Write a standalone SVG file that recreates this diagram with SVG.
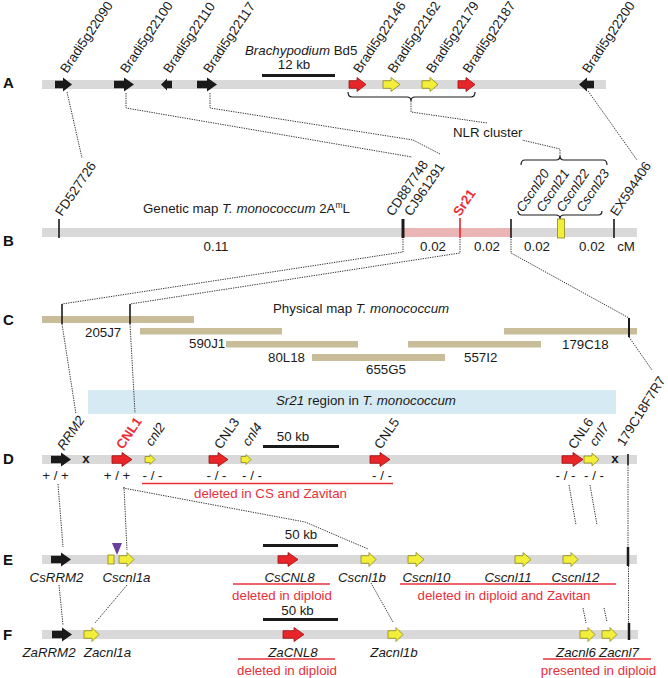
<svg xmlns="http://www.w3.org/2000/svg" width="668" height="678" viewBox="0 0 668 678">
<style>
.t{font-family:"Liberation Sans",Arial,sans-serif;font-size:13.3px;fill:#1a1a1a}
.rt{font-size:13.3px}
.i{font-style:italic}
.r{fill:#e8303a}
.bd{font-weight:bold}
.lb{font-family:"Liberation Sans",Arial,sans-serif;font-weight:bold;font-size:15px;fill:#111}
.m{text-anchor:middle}
.bar{fill:#d9d9d9}
.blk{fill:#1a1a1a}
.red{fill:#e8262a;stroke:#9a1010;stroke-width:0.8}
.yel{fill:#f3ee3a;stroke:#8a861e;stroke-width:0.8}
.dot{fill:none;stroke:#333;stroke-width:1;stroke-dasharray:1.3 1.1}
.rl{stroke:#e8303a;stroke-width:1.6}
.sb{stroke:#1a1a1a;stroke-width:3}
.mk{stroke:#1a1a1a;stroke-width:1.6}
.br{fill:none;stroke:#1a1a1a;stroke-width:1.2}
.tan{fill:#c8bd98}
</style>

<!-- Row letters -->
<g id="letters">
<text class="lb" x="3" y="88">A</text>
<text class="lb" x="3" y="246">B</text>
<text class="lb" x="3" y="325">C</text>
<text class="lb" x="3" y="464">D</text>
<text class="lb" x="3" y="565">E</text>
<text class="lb" x="3" y="640">F</text>
</g>

<!-- Row A -->
<g id="rowA">
<rect class="bar" x="42" y="80" width="564" height="9"/>
<line class="sb" x1="262" y1="75.5" x2="335" y2="75.5"/>
<text class="t m" x="294" y="69">12 kb</text>
<text class="t" x="245" y="55" font-size="12.3"><tspan class="i">Brachypodium</tspan> Bd5</text>
<g id="Bradi5g22090"><path class="blk" d="M55,80.7 H63 V77.5 L72,84.5 L63,91.5 V88.3 H55Z"/><text class="t rt" transform="translate(67,74) rotate(-56)">Bradi5g22090</text></g>
<g id="Bradi5g22100"><path class="blk" d="M114,80.7 H124 V77.5 L134,84.5 L124,91.5 V88.3 H114Z"/><text class="t rt" transform="translate(127,74) rotate(-56)">Bradi5g22100</text></g>
<g id="Bradi5g22110"><path class="blk" d="M172,80.7 H167 V78.5 L161,84.5 L167,90.5 V88.3 H172Z"/><text class="t rt" transform="translate(170,74) rotate(-56)">Bradi5g22110</text></g>
<g id="Bradi5g22117"><path class="blk" d="M197,80.7 H207 V77.5 L217,84.5 L207,91.5 V88.3 H197Z"/><text class="t rt" transform="translate(210,74) rotate(-56)">Bradi5g22117</text></g>
<g id="Bradi5g22146"><path class="red" d="M349,80.7 H357 V77.5 L366,84.5 L357,91.5 V88.3 H349Z"/><text class="t rt" transform="translate(360,74) rotate(-56)">Bradi5g22146</text></g>
<g id="Bradi5g22162"><path class="yel" d="M383,80.7 H391 V77.5 L400,84.5 L391,91.5 V88.3 H383Z"/><text class="t rt" transform="translate(394.5,74) rotate(-56)">Bradi5g22162</text></g>
<g id="Bradi5g22179"><path class="yel" d="M422,80.7 H430 V77.5 L438,84.5 L430,91.5 V88.3 H422Z"/><text class="t rt" transform="translate(433,74) rotate(-56)">Bradi5g22179</text></g>
<g id="Bradi5g22187"><path class="red" d="M458,80.7 H466 V77.5 L475,84.5 L466,91.5 V88.3 H458Z"/><text class="t rt" transform="translate(469.5,74) rotate(-56)">Bradi5g22187</text></g>
<g id="Bradi5g22200"><path class="blk" d="M594,80.7 H587 V77.5 L579,84.5 L587,91.5 V88.3 H594Z"/><text class="t rt" transform="translate(589,74) rotate(-56)">Bradi5g22200</text></g>
<path class="br" d="M348,92 Q348,97 352,97 H407 Q411,97 411,101 Q411,97 415,97 H471 Q475,97 475,92"/>
</g>

<g id="nlr-cluster">
<text class="t" x="453" y="137">NLR cluster</text>
</g>

<!-- Row B -->
<g id="rowB">
<rect class="bar" x="42" y="228" width="595" height="9"/>
<rect fill="#e9b5b5" x="403" y="228" width="108" height="9"/>
<text class="t" x="143" y="213" font-size="12.8">Genetic map <tspan class="i">T. monococcum</tspan> 2A<tspan font-size="8.5" dy="-5">m</tspan><tspan dy="5">L</tspan></text>
<g id="FD527726"><line class="mk" x1="59" y1="219" x2="59" y2="238"/><text class="t rt" transform="translate(62,217) rotate(-56)">FD527726</text></g>
<g id="CD887748"><line stroke="#1a1a1a" stroke-width="3" x1="403" y1="219" x2="403" y2="238"/><text class="t rt" transform="translate(393,217) rotate(-56)">CD887748</text><text class="t rt" transform="translate(411,217) rotate(-56)">CJ961291</text></g>
<g id="Sr21"><line stroke="#e8262a" stroke-width="1.6" x1="460" y1="218" x2="460" y2="238"/><text class="t rt r bd" transform="translate(460,217) rotate(-56)">Sr21</text></g>
<g id="markerB511"><line class="mk" x1="511" y1="219" x2="511" y2="238"/></g>
<g id="EX594406"><line class="mk" x1="614" y1="219" x2="614" y2="238"/><text class="t rt" transform="translate(617,217) rotate(-56)">EX594406</text></g>
<g id="Cscnl20-23">
<path class="br" d="M521,165 Q521,160 525,160 H556 Q560,160 560,156 Q560,160 564,160 H603 Q607,160 607,165"/>
<text class="t rt i" transform="translate(523,213) rotate(-56)">Cscnl20</text>
<text class="t rt i" transform="translate(543,213) rotate(-56)">Cscnl21</text>
<text class="t rt i" transform="translate(563,213) rotate(-56)">Cscnl22</text>
<text class="t rt i" transform="translate(583,213) rotate(-56)">Cscnl23</text>
<path class="br" d="M518,211 Q518,215 522,215 H556 Q560,215 560,219 Q560,215 564,215 H598 Q602,215 602,211"/>
<rect class="yel" x="557.5" y="219" width="7" height="19"/>
</g>
<text class="t m" x="216" y="251">0.11</text>
<text class="t m" x="433" y="251">0.02</text>
<text class="t m" x="487" y="251">0.02</text>
<text class="t m" x="537" y="251">0.02</text>
<text class="t m" x="592" y="251">0.02</text>
<text class="t m" x="626" y="251">cM</text>
</g>

<!-- Row C -->
<g id="rowC">
<text class="t" x="273" y="313">Physical map <tspan class="i">T. monococcum</tspan></text>
<g id="BAC205J7"><rect class="tan" x="42" y="316" width="152" height="7"/><text class="t" x="85" y="337">205J7</text></g>
<g id="BAC590J1"><rect class="tan" x="140" y="328" width="142" height="6.5"/><text class="t" x="189" y="348">590J1</text></g>
<g id="BAC80L18"><rect class="tan" x="226" y="341" width="132" height="6.5"/><text class="t" x="268" y="362">80L18</text></g>
<g id="BAC655G5"><rect class="tan" x="312" y="354" width="133" height="7"/><text class="t" x="366" y="374">655G5</text></g>
<g id="BAC557I2"><rect class="tan" x="408" y="341" width="133" height="6.5"/><text class="t" x="464" y="362">557I2</text></g>
<g id="BAC179C18"><rect class="tan" x="504" y="328" width="133" height="6.5"/><text class="t" x="562" y="349">179C18</text></g>
<line class="mk" x1="62" y1="304" x2="62" y2="324"/>
<line class="mk" x1="130" y1="304" x2="130" y2="324"/>
<line stroke="#1a1a1a" stroke-width="2" x1="629" y1="318" x2="629" y2="337"/>
</g>

<!-- Sr21 region box -->
<g id="sr21-region">
<rect fill="#d6eaf3" x="88" y="390" width="528" height="24"/>
<text class="t" x="276" y="405"><tspan class="i">Sr21</tspan> region in <tspan class="i">T. monococcum</tspan></text>
</g>

<!-- Row D -->
<g id="rowD">
<rect class="bar" x="42" y="455" width="595" height="9"/>
<line class="sb" x1="263" y1="446.5" x2="339" y2="446.5"/>
<text class="t m" x="293" y="441">50 kb</text>
<text class="t bd m" x="86" y="463">x</text>
<text class="t bd m" x="615" y="463">x</text>
<g id="RRM2"><path class="blk" d="M51,455.7 H61 V452.5 L71,459.5 L61,466.5 V463.3 H51Z"/><text class="t rt i" transform="translate(64,451) rotate(-56)">RRM2</text><text class="t m" x="55.5" y="480">+ / +</text></g>
<g id="CNL1"><path class="red" d="M112,455.7 H122 V452.5 L132,459.5 L122,466.5 V463.3 H112Z"/><text class="t rt r bd" transform="translate(123,450) rotate(-56)">CNL1</text><text class="t m" x="117" y="480">+ / +</text></g>
<g id="cnl2"><path class="yel" d="M145,456.5 H150 V454.5 L155,459.5 L150,464.5 V462.5 H145Z"/><text class="t rt i" transform="translate(152,447) rotate(-56)">cnl2</text><text class="t m" x="152.5" y="480">- / -</text></g>
<g id="CNL3"><path class="red" d="M209,455.7 H218 V452.5 L228,459.5 L218,466.5 V463.3 H209Z"/><text class="t rt" transform="translate(221,450) rotate(-56)">CNL3</text><text class="t m" x="216.5" y="480">- / -</text></g>
<g id="cnl4"><path class="yel" d="M241,456.5 H246 V454.5 L251,459.5 L246,464.5 V462.5 H241Z"/><text class="t rt i" transform="translate(249,447) rotate(-56)">cnl4</text><text class="t m" x="252" y="480">- / -</text></g>
<g id="CNL5"><path class="red" d="M370,455.7 H380 V452.5 L390,459.5 L380,466.5 V463.3 H370Z"/><text class="t rt" transform="translate(381,450) rotate(-56)">CNL5</text><text class="t m" x="382" y="480">- / -</text></g>
<g id="CNL6"><path class="red" d="M562,455.7 H573 V452.5 L583,459.5 L573,466.5 V463.3 H562Z"/><text class="t rt" transform="translate(575,450) rotate(-56)">CNL6</text><text class="t m" x="565.5" y="480">- / -</text></g>
<g id="cnl7"><path class="yel" d="M584,456 H592 V453 L599,459.5 L592,466 V463 H584Z"/><text class="t rt i" transform="translate(596,447) rotate(-56)">cnl7</text><text class="t m" x="594" y="480">- / -</text></g>
<g id="m179C18F7R7"><line class="mk" x1="628" y1="454" x2="628" y2="465"/><text class="t" font-size="11.5" transform="translate(624,447) rotate(-58)">179C18F7R7</text></g>
<line class="rl" x1="142" y1="483.5" x2="393" y2="483.5"/>
<text class="t r" x="194" y="498">deleted in CS and Zavitan</text>
</g>

<!-- Row E -->
<g id="rowE">
<rect class="bar" x="42" y="555" width="595" height="9"/>
<line class="sb" x1="263" y1="545.5" x2="338" y2="545.5"/>
<text class="t m" x="301" y="539">50 kb</text>
<g id="CsRRM2"><path class="blk" d="M51,555.7 H61 V552.5 L71,559.5 L61,566.5 V563.3 H51Z"/><text class="t i m" x="56.5" y="582">CsRRM2</text></g>
<g id="Cscnl1a"><rect class="yel" x="108" y="555" width="6" height="9"/><path fill="#6b3fa0" d="M112,543 H122 L117,555Z"/><path class="yel" d="M119,555.7 H127 V552.5 L134,559.5 L127,566.5 V563.3 H119Z"/><text class="t i m" x="126.5" y="582">Cscnl1a</text></g>
<g id="CsCNL8"><path class="red" d="M278,555.7 H288 V552.5 L298,559.5 L288,566.5 V563.3 H278Z"/><text class="t i m" x="289.5" y="582">CsCNL8</text></g>
<g id="Cscnl1b"><path class="yel" d="M361,555.7 H369 V552.5 L376,559.5 L369,566.5 V563.3 H361Z"/><text class="t i m" x="362" y="582">Cscnl1b</text></g>
<g id="Cscnl10"><path class="yel" d="M408,555.7 H416 V552.5 L424,559.5 L416,566.5 V563.3 H408Z"/><text class="t i m" x="426.5" y="582">Cscnl10</text></g>
<g id="Cscnl11"><path class="yel" d="M515,555.7 H523 V552.5 L531,559.5 L523,566.5 V563.3 H515Z"/><text class="t i m" x="508" y="582">Cscnl11</text></g>
<g id="Cscnl12"><path class="yel" d="M563,555.7 H571 V552.5 L578,559.5 L571,566.5 V563.3 H563Z"/><text class="t i m" x="575.5" y="582">Cscnl12</text></g>
<line stroke="#1a1a1a" stroke-width="2.5" x1="628" y1="547" x2="628" y2="566"/>
<line class="rl" x1="233" y1="584" x2="330" y2="584"/>
<text class="t r m" x="282" y="600">deleted in diploid</text>
<line class="rl" x1="400" y1="584" x2="616" y2="584"/>
<text class="t r m" x="504" y="600">deleted in diploid and Zavitan</text>
</g>

<!-- Row F -->
<g id="rowF">
<rect class="bar" x="42" y="630" width="596" height="9"/>
<line class="sb" x1="263" y1="619.5" x2="338" y2="619.5"/>
<text class="t m" x="297.5" y="615">50 kb</text>
<g id="ZaRRM2"><path class="blk" d="M52,630.7 H62 V627.5 L72,634.5 L62,641.5 V638.3 H52Z"/><text class="t i m" x="49" y="657">ZaRRM2</text></g>
<g id="Zacnl1a"><path class="yel" d="M84,630.7 H92 V627.5 L99,634.5 L92,641.5 V638.3 H84Z"/><text class="t i m" x="107.5" y="657">Zacnl1a</text></g>
<g id="ZaCNL8"><path class="red" d="M283,630.7 H294 V627.5 L304,634.5 L294,641.5 V638.3 H283Z"/><text class="t i m" x="293" y="657">ZaCNL8</text></g>
<g id="Zacnl1b"><path class="yel" d="M388,630.7 H396 V627.5 L403,634.5 L396,641.5 V638.3 H388Z"/><text class="t i m" x="394" y="657">Zacnl1b</text></g>
<g id="Zacnl6"><path class="yel" d="M580,630.7 H588 V627.5 L595,634.5 L588,641.5 V638.3 H580Z"/><text class="t i m" x="576" y="657">Zacnl6</text></g>
<g id="Zacnl7"><path class="yel" d="M602,630.7 H610 V627.5 L617,634.5 L610,641.5 V638.3 H602Z"/><text class="t i m" x="619" y="657">Zacnl7</text></g>
<line stroke="#1a1a1a" stroke-width="2.5" x1="629" y1="623" x2="629" y2="640"/>
<line class="rl" x1="238" y1="659" x2="335" y2="659"/>
<text class="t r m" x="287" y="675">deleted in diploid</text>
<line class="rl" x1="543" y1="659" x2="651" y2="659"/>
<text class="t r m" x="598.5" y="675">presented in diploid</text>
</g>

<!-- Connectors -->
<g id="connectors">
<path class="dot" d="M67,92 L82,158"/>
<path class="dot" d="M126,93 V108 L412,157"/>
<path class="dot" d="M210,93 V108 L413,140 L440,154"/>
<path class="dot" d="M411,101 V112 L487,123"/>
<path class="dot" d="M560,156 V149 L522,140"/>
<path class="dot" d="M588,91 L637,160"/>
<path class="dot" d="M403,239 V252 L62,304"/>
<path class="dot" d="M460,239 V253 L130,304"/>
<path class="dot" d="M511,239 V253 L629,318"/>
<path class="dot" d="M62,324 L76,414"/>
<path class="dot" d="M130,324 L135,413"/>
<path class="dot" d="M629,337 L652,370"/>
<path class="dot" d="M58,484 L63,547"/>
<path class="dot" d="M124,487 L127,550"/>
<path class="dot" d="M123,488 L305,522 L368,549"/>
<path class="dot" d="M569,485 L576,525"/>
<path class="dot" d="M590,485 L597,525"/>
<path class="dot" d="M628,465 V547"/>
<path class="dot" d="M628.5,566 V623"/>
<path class="dot" d="M59,585 L63,625"/>
<path class="dot" d="M127,585 L95,623"/>
<path class="dot" d="M371,583 L393,622"/>
<path class="dot" d="M583,608 L586,623"/>
<path class="dot" d="M604,608 L607,622"/>
</g>
</svg>
